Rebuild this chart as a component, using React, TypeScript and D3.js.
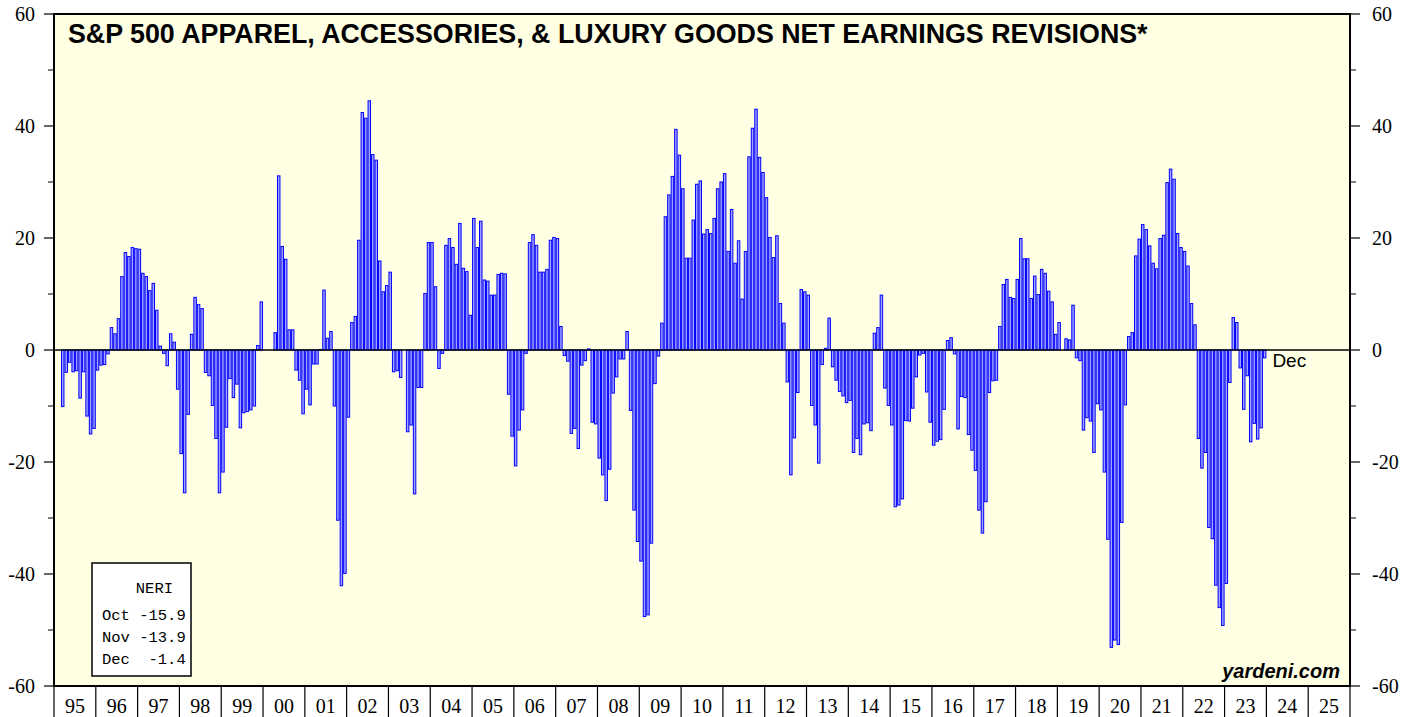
import React from 'react';
import * as d3 from 'd3';

const W = 1416;
const H = 717;

// Monthly NERI values, first value = March 1995, last = December 2023
const startYear = 1995;
const startMonth = 2; // 0-based month index of first value (March)
const neri: number[] = [
  /*1995*/ -10.1, -4.0, -2.2, -3.9, -3.7, -8.6, -3.9, -11.8, -15.0, -14.0,
  /*1996*/ -3.6, -2.7, -2.6, -0.7, 4.0, 2.9, 5.6, 13.1, 17.4, 16.7, 18.3, 18.1,
  /*1997*/ 18.0, 13.7, 13.1, 10.6, 11.9, 7.1, 0.7, -0.6, -2.8, 2.9, 1.4, -7.0,
  /*1998*/ -18.5, -25.5, -11.5, 2.8, 9.4, 8.1, 7.4, -4.0, -4.6, -9.9, -15.8, -25.5,
  /*1999*/ -21.8, -13.8, -5.1, -8.5, -6.1, -13.9, -11.2, -11.0, -10.7, -10.0, 0.8, 8.6,
  /*2000*/ 0, 0, 0, 3.1, 31.1, 18.5, 16.2, 3.6, 3.6, -3.6, -5.4, -11.4,
  /*2001*/ -7.0, -9.8, -2.5, -2.5, 0.1, 10.7, 2.1, 3.3, -10.0, -30.4, -42.1, -39.9,
  /*2002*/ -12.0, 4.9, 6.0, 19.6, 42.4, 41.4, 44.5, 34.9, 33.9, 15.9, 10.4, 11.5,
  /*2003*/ 13.9, -3.9, -3.7, -4.9, 0, -14.6, -13.4, -25.7, -6.7, -6.7, 10.1, 19.2,
  /*2004*/ 19.2, 11.3, -3.3, -0.6, 18.7, 19.9, 18.3, 15.3, 22.6, 14.6, 14.0, 6.2,
  /*2005*/ 23.5, 18.3, 23.0, 12.5, 12.3, 9.8, 9.8, 13.5, 13.7, 13.6, -7.9, -15.4,
  /*2006*/ -20.7, -14.3, -10.7, -0.6, 19.2, 20.6, 18.7, 13.9, 13.9, 14.4, 19.6, 20.1,
  /*2007*/ 19.9, 4.2, -1.0, -2.0, -14.9, -14.0, -17.6, -2.7, -1.9, 0.2, -12.9, -13.2,
  /*2008*/ -19.3, -22.3, -26.9, -21.3, -7.7, -4.8, -1.6, -1.6, 3.3, -10.8, -28.6, -34.2,
  /*2009*/ -37.7, -47.6, -47.3, -34.5, -6.0, -1.1, 4.8, 23.8, 27.7, 31.0, 39.4, 34.8,
  /*2010*/ 28.8, 16.4, 16.4, 23.2, 29.6, 30.2, 20.7, 21.5, 20.8, 23.5, 28.8, 30.0,
  /*2011*/ 31.5, 17.6, 25.1, 15.5, 19.5, 9.1, 17.6, 34.5, 39.6, 43.0, 34.4, 31.7,
  /*2012*/ 27.2, 20.1, 16.5, 20.4, 8.3, 4.8, -5.7, -22.3, -15.7, -7.6, 10.8, 10.4,
  /*2013*/ 9.8, -9.9, -13.4, -20.2, -2.6, 0.3, 5.7, -3.0, -5.4, -7.4, -8.2, -9.4,
  /*2014*/ -9.0, -18.3, -15.8, -18.7, -13.2, -13.0, -14.4, 3.0, 4.0, 9.8, -6.8, -9.9,
  /*2015*/ -13.4, -28.0, -27.7, -26.6, -12.6, -12.7, -10.4, -4.8, -0.9, -0.6, -7.5, -12.9,
  /*2016*/ -17.0, -16.3, -16.0, -10.6, 1.7, 2.2, -0.7, -14.1, -8.3, -8.5, -15.1, -17.9,
  /*2017*/ -21.5, -28.6, -32.7, -27.1, -7.6, -5.5, -5.4, 4.2, 11.7, 12.6, 9.4, 9.2,
  /*2018*/ 12.6, 19.9, 16.3, 16.3, 9.2, 13.2, 9.9, 14.4, 13.7, 10.5, 8.6, 2.8,
  /*2019*/ 4.9, 0, 2.0, 1.8, 8.0, -1.4, -1.9, -14.3, -12.1, -12.7, -18.3, -9.6,
  /*2020*/ -10.7, -21.8, -33.8, -53.1, -51.8, -52.6, -30.8, -9.8, 2.4, 3.1, 16.8, 19.8,
  /*2021*/ 22.4, 21.5, 18.6, 15.5, 14.5, 19.9, 20.5, 29.9, 32.3, 30.5, 20.8, 18.3,
  /*2022*/ 17.6, 15.0, 8.3, 4.5, -15.8, -21.1, -18.3, -31.7, -33.7, -42.0, -46.0, -49.2,
  /*2023*/ -41.7, -5.8, 5.8, 4.9, -3.2, -10.6, -4.6, -16.4, -13.1, -15.9, -13.9, -1.4,
];

const yearLabels = ['95','96','97','98','99','00','01','02','03','04','05','06','07','08','09','10','11','12','13','14','15','16','17','18','19','20','21','22','23','24','25'];
const yMajorTicks = [-60, -40, -20, 0, 20, 40, 60];
const yMinorTicks = [-50, -30, -10, 10, 30, 50];
const legendMonths = ['Oct', 'Nov', 'Dec'];
const legendValues = [-15.9, -13.9, -1.4];

const title = 'S&P 500 APPAREL, ACCESSORIES, & LUXURY GOODS NET EARNINGS REVISIONS*';

export default function App() {
  const L = 54, R = 1350, T = 14, B = 686;
  const nMonths = yearLabels.length * 12;
  const x = d3.scaleLinear().domain([0, nMonths]).range([L, R]);
  const y = d3.scaleLinear().domain([-60, 60]).range([B, T]);

  const bars = neri.map((v, i) => {
    const m = startMonth + i;
    const x0 = x(m);
    const x1 = x(m + 1);
    const yt = y(Math.max(v, 0));
    const yb = y(Math.min(v, 0));
    return { x0, x1, yt, yb, key: i };
  });

  const serif = '"Liberation Serif", "Times New Roman", serif';
  const sans = '"Liberation Sans", Arial, sans-serif';
  const mono = '"Liberation Mono", "Courier New", monospace';

  const lastIdx = startMonth + neri.length - 1;

  return (
    <svg width={W} height={H} style={{ position: 'absolute', left: 0, top: 0, background: '#fff' }}>
      <rect x={L} y={T} width={R - L} height={B - T} fill="#ffffe4" />
      {bars.map(b => (
        <rect key={b.key} x={b.x0 + 0.5} y={b.yt} width={Math.max(b.x1 - b.x0 - 1, 0.5)} height={Math.max(b.yb - b.yt, 0)}
          fill="#a3a3ff" stroke="#0000ff" strokeWidth={1} />
      ))}
      <line x1={L} x2={R} y1={y(0)} y2={y(0)} stroke="#000" strokeWidth={1.5} />
      <rect x={L} y={T} width={R - L} height={B - T} fill="none" stroke="#000" strokeWidth={2} />

      {/* left & right axes */}
      {yMajorTicks.map(t => (
        <g key={'M' + t}>
          <line x1={L - 10} x2={L} y1={y(t)} y2={y(t)} stroke="#000" strokeWidth={1.2} />
          <line x1={R} x2={R + 10} y1={y(t)} y2={y(t)} stroke="#000" strokeWidth={1.2} />
          <text x={L - 19} y={y(t)} textAnchor="end" dominantBaseline="central" fontFamily={serif} fontSize={20}>{t}</text>
          <text x={R + 22} y={y(t)} textAnchor="start" dominantBaseline="central" fontFamily={serif} fontSize={20}>{t}</text>
        </g>
      ))}
      {yMinorTicks.map(t => (
        <g key={'m' + t}>
          <line x1={L - 6} x2={L} y1={y(t)} y2={y(t)} stroke="#000" strokeWidth={1} />
          <line x1={R} x2={R + 6} y1={y(t)} y2={y(t)} stroke="#000" strokeWidth={1} />
        </g>
      ))}

      {/* bottom axis */}
      {d3.range(yearLabels.length + 1).map(i => (
        <line key={'yt' + i} x1={x(i * 12)} x2={x(i * 12)} y1={B} y2={H} stroke="#000" strokeWidth={1.2} />
      ))}
      {yearLabels.map((lab, i) => (
        <text key={'yl' + i} x={x(i * 12 + 6)} y={706} textAnchor="middle" dominantBaseline="central" fontFamily={serif} fontSize={20}>{lab}</text>
      ))}

      {/* title */}
      <text x={68} y={43} fontFamily={sans} fontWeight="bold" fontSize={26.8} fill="#000">{title}</text>

      {/* last value label */}
      <text x={x(lastIdx + 1) + 6} y={y(0) + 10} dominantBaseline="central" fontFamily={sans} fontSize={19}>Dec</text>

      {/* legend box */}
      <rect x={92} y={563} width={99} height={113} fill="#fff" stroke="#000" strokeWidth={1.5} />
      <text x={173} y={593} textAnchor="end" fontFamily={mono} fontSize={15.5}>NERI</text>
      {legendMonths.map((mo, i) => (
        <text key={mo} x={102} y={620 + i * 22} fontFamily={mono} fontSize={15.5} style={{ whiteSpace: 'pre' }}>
          {`${mo} ${legendValues[i].toFixed(1).padStart(5, ' ')}`}
        </text>
      ))}

      <text x={1340} y={678} textAnchor="end" fontFamily={sans} fontWeight="bold" fontStyle="italic" fontSize={20}>yardeni.com</text>
    </svg>
  );
}
